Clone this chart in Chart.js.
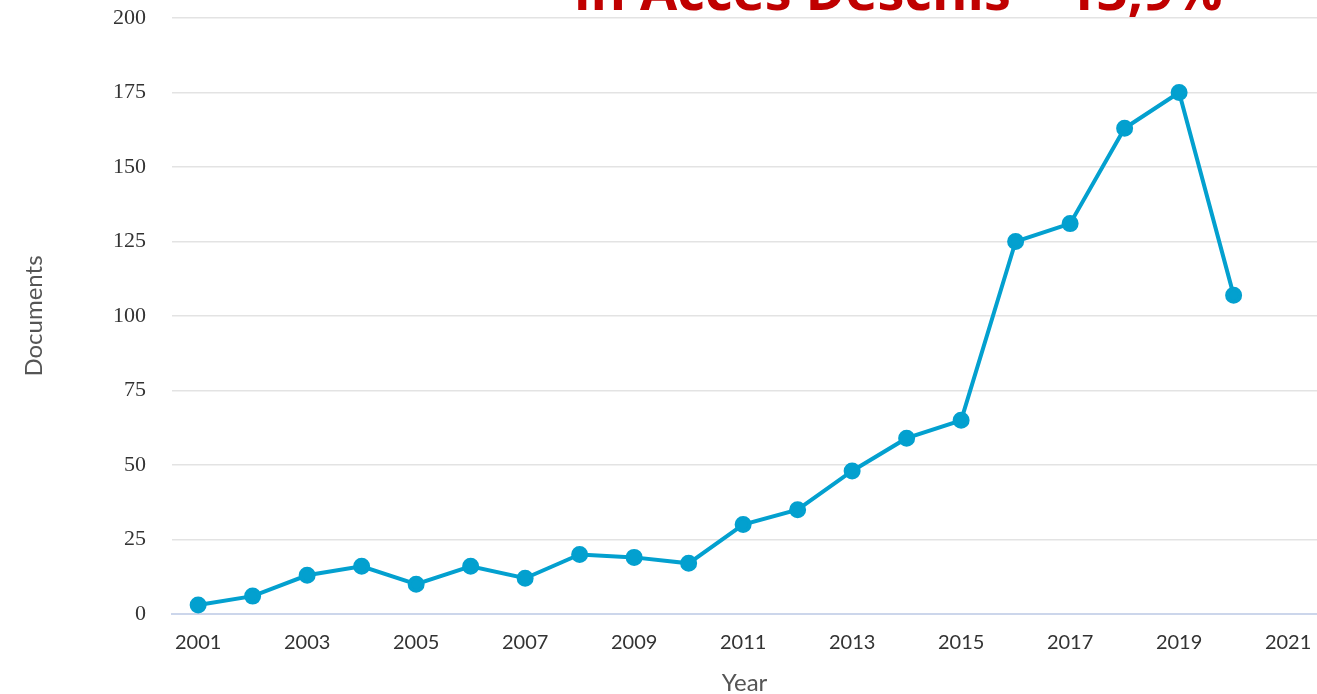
<!DOCTYPE html>
<html>
<head>
<meta charset="utf-8">
<script src="https://cdn.jsdelivr.net/npm/chart.js@4.4.0/dist/chart.umd.min.js"></script>
<style>
  html, body { margin: 0; padding: 0; background: #fff; overflow: hidden; }
  #wrap { position: relative; width: 1317px; height: 694px; }
  #titlu {
    position: absolute; left: 574px; top: -38px; white-space: nowrap;
    font-family: 'Open Sans', sans-serif; font-weight: 700; font-size: 54px;
    color: #c00000; line-height: 1;
  }
</style>
</head>
<body>
<div id="wrap">
  <canvas id="grafic" width="1317" height="694"></canvas>
  <div id="titlu">în Acces Deschis – 13,9%</div>
</div>
<script>
const ANI = [2001, 2002, 2003, 2004, 2005, 2006, 2007, 2008, 2009, 2010,
  2011, 2012, 2013, 2014, 2015, 2016, 2017, 2018, 2019, 2020];
const DOCUMENTE = [3, 6, 13, 16, 10, 16, 12, 20, 19, 17,
  30, 35, 48, 59, 65, 125, 131, 163, 175, 107];
const TICK_X = [2001, 2003, 2005, 2007, 2009, 2011, 2013, 2015, 2017, 2019, 2021];
const TICK_Y = [0, 25, 50, 75, 100, 125, 150, 175, 200];

const CULOARE = '#03a0cf';

new Chart(document.getElementById('grafic'), {
  type: 'line',
  data: {
    datasets: [{
      data: ANI.map((a, i) => ({ x: a, y: DOCUMENTE[i] })),
      borderColor: CULOARE,
      backgroundColor: CULOARE,
      pointBackgroundColor: CULOARE,
      pointBorderColor: CULOARE,
      borderWidth: 4,
      pointRadius: 6.5,
      tension: 0,
      clip: false,
    }],
  },
  options: {
    responsive: false,
    animation: false,
    layout: { autoPadding: false, padding: { top: 18, right: 0, bottom: 0, left: 0 } },
    plugins: { legend: { display: false }, tooltip: { enabled: false } },
    scales: {
      x: {
        type: 'linear',
        min: 2000.52,
        max: 2021.53,
        afterBuildTicks: (s) => { s.ticks = TICK_X.map((v) => ({ value: v })); },
        afterFit: (s) => { s.height = 80; s.paddingLeft = 0; s.paddingRight = 0; },
        grid: { display: false, drawTicks: false },
        border: { display: true, color: '#ccd6eb', width: 2 },
        ticks: {
          color: '#333',
          font: { family: 'Lato', size: 20 },
          padding: 17,
          maxRotation: 0,
          autoSkip: false,
          callback: (v) => String(v),
        },
        title: {
          display: true,
          text: 'Year',
          color: '#555',
          font: { family: 'Lato', size: 24 },
          padding: { top: 8, bottom: -4 },
        },
      },
      y: {
        min: 0,
        max: 200,
        afterBuildTicks: (s) => { s.ticks = TICK_Y.map((v) => ({ value: v })); },
        afterFit: (s) => { s.width = 172; s.paddingTop = 0; s.paddingBottom = 0; },
        grid: { color: '#e3e3e3', lineWidth: 1.5, drawTicks: false },
        border: { display: false },
        ticks: {
          color: '#333',
          font: { family: 'Liberation Serif', size: 22 },
          padding: 26,
        },
        title: {
          display: true,
          text: 'Documents',
          color: '#555',
          font: { family: 'Lato', size: 24 },
          padding: { top: 20, bottom: 0 },
        },
      },
    },
  },
});
</script>
</body>
</html>
